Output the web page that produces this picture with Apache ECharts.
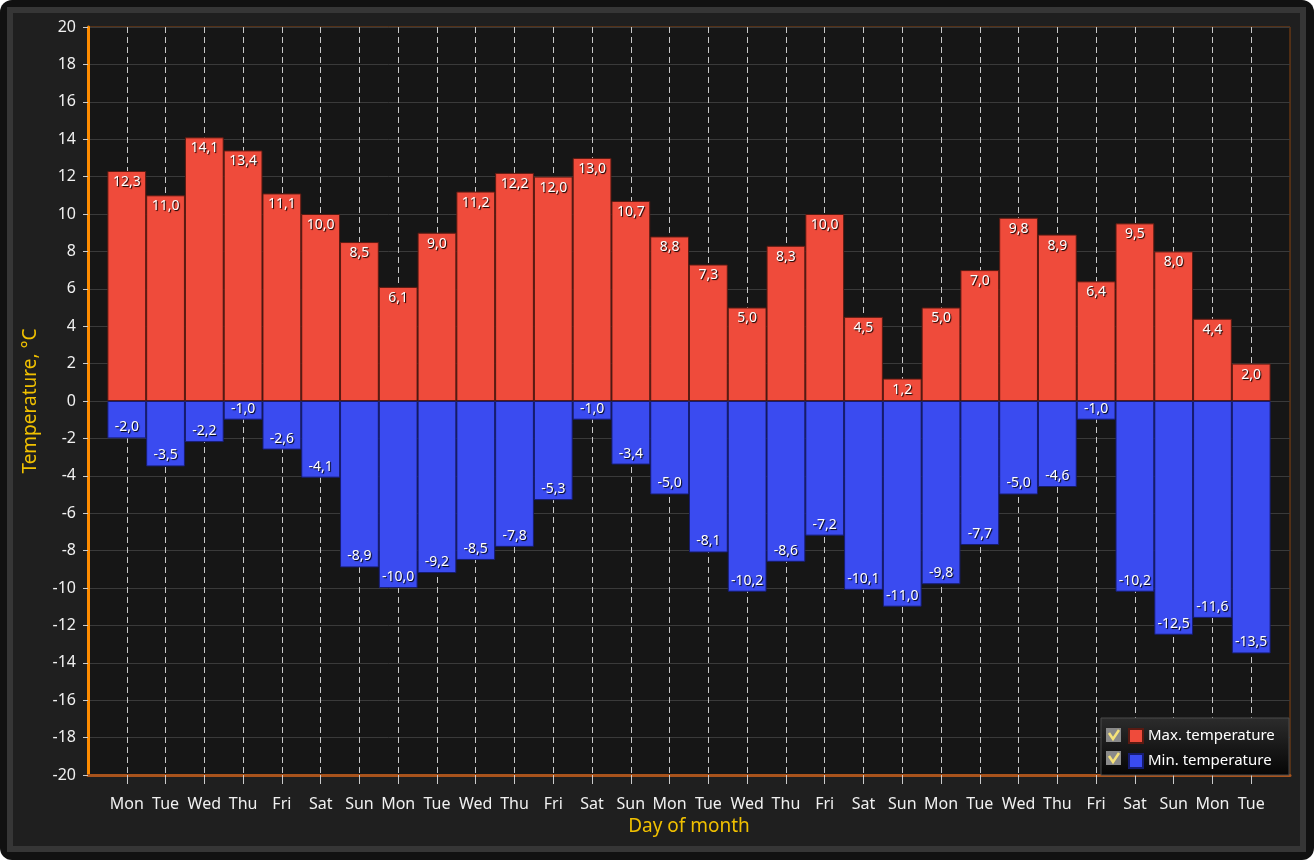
<!DOCTYPE html>
<html>
<head>
<meta charset="utf-8">
<script src="https://cdn.jsdelivr.net/npm/echarts@6/dist/echarts.min.js"></script>
<style>
html,body{margin:0;padding:0;background:#ffffff;}
#outer{position:absolute;left:0;top:0;width:1314px;height:860px;background:#111111;border-radius:12px;}
#ring{position:absolute;left:7px;top:7px;width:1299px;height:845px;background:#363636;}
#inner{position:absolute;left:13px;top:13px;width:1287px;height:833px;background:#1f1f1f;}
#chart{position:absolute;left:0;top:0;width:1314px;height:860px;}
</style>
</head>
<body>
<div id="outer"></div><div id="ring"></div><div id="inner"></div>
<div id="chart"></div>
<script>
const days = ['Mon','Tue','Wed','Thu','Fri','Sat','Sun','Mon','Tue','Wed','Thu','Fri','Sat','Sun','Mon','Tue','Wed','Thu','Fri','Sat','Sun','Mon','Tue','Wed','Thu','Fri','Sat','Sun','Mon','Tue'];
const maxTemp = [12.3,11.0,14.1,13.4,11.1,10.0,8.5,6.1,9.0,11.2,12.2,12.0,13.0,10.7,8.8,7.3,5.0,8.3,10.0,4.5,1.2,5.0,7.0,9.8,8.9,6.4,9.5,8.0,4.4,2.0];
const minTemp = [-2.0,-3.5,-2.2,-1.0,-2.6,-4.1,-8.9,-10.0,-9.2,-8.5,-7.8,-5.3,-1.0,-3.4,-5.0,-8.1,-10.2,-8.6,-7.2,-10.1,-11.0,-9.8,-7.7,-5.0,-4.6,-1.0,-10.2,-12.5,-11.6,-13.5];
const yTicks = {min:-20, max:20, interval:2};

const FONT = 'Noto Sans';
const cats = [''].concat(days, ['']);
const pad = a => ['-'].concat(a, ['-']);
const inner = (i) => i > 0 && i < cats.length - 1;
const fmt = p => p.value.toFixed(1).replace('.', ',');
const labelBase = {
  show:true, color:'#ffffff', fontFamily:FONT, fontSize:14,
  textShadowColor:'#000', textShadowOffsetX:1, textShadowOffsetY:1, textShadowBlur:1,
  distance:4, formatter: fmt
};

const chart = echarts.init(document.getElementById('chart'), null, {renderer:'canvas'});
chart.setOption({
  backgroundColor:'transparent',
  animation:false,
  textStyle:{fontFamily:FONT},
  grid:{left:88, right:24, top:27, bottom:85, show:true, backgroundColor:'#161616', borderColor:'#8a4510', borderWidth:1},
  legend:{
    orient:'vertical', left:1128, top:728, padding:0, itemWidth:14, itemHeight:14, itemGap:9,
    icon:'rect', selectedMode:false,
    textStyle:{color:'#ffffff', fontSize:15, fontFamily:FONT, lineHeight:14},
    data:['Max. temperature','Min. temperature']
  },
  xAxis:{
    type:'category', data:cats, boundaryGap:false,
    name:'Day of month', nameLocation:'middle', nameGap:38,
    nameTextStyle:{color:'#f0c000', fontSize:19, fontFamily:FONT},
    axisLine:{show:true, onZero:false, lineStyle:{color:'#a8531c', width:3}},
    axisTick:{show:true, length:9, interval:inner, lineStyle:{color:'#cccccc'}},
    axisLabel:{color:'#f0f0f0', fontSize:16, margin:21, interval:inner, fontFamily:FONT},
    splitLine:{show:true, interval:inner, lineStyle:{color:'#c8c8c8', type:[6,4], width:1}}
  },
  yAxis:{
    type:'value', min:yTicks.min, max:yTicks.max, interval:yTicks.interval,
    name:'Temperature, °C', nameLocation:'middle', nameGap:48, nameRotate:90,
    nameTextStyle:{color:'#f0c000', fontSize:19, fontFamily:FONT},
    axisLine:{show:true, lineStyle:{color:'#ff8c00', width:3}},
    axisTick:{show:true, length:5, lineStyle:{color:'#cccccc'}},
    axisLabel:{color:'#f0f0f0', fontSize:16, margin:12, fontFamily:FONT},
    splitLine:{show:true, lineStyle:{color:'#3a3a3a', width:1}}
  },
  series:[
    {name:'Max. temperature', type:'bar', data:pad(maxTemp), barWidth:'100%', barGap:'-100%',
     itemStyle:{color:'#ef4b3b', borderColor:'#5a1a12', borderWidth:1},
     label:Object.assign({position:'insideTop'}, labelBase)},
    {name:'Min. temperature', type:'bar', data:pad(minTemp), barWidth:'100%', barGap:'-100%',
     itemStyle:{color:'#3a4bf0', borderColor:'#161c70', borderWidth:1},
     label:Object.assign({position:'insideBottom'}, labelBase)}
  ],
  graphic:[
    {type:'rect', z:3, shape:{x:1101, y:718, width:188, height:57},
     style:{fill:new echarts.graphic.LinearGradient(0,0,0,1,[{offset:0,color:'#2c2c2c'},{offset:1,color:'#050505'}]), stroke:'#4a4a4a', lineWidth:1}},
    {type:'rect', z:5, shape:{x:1106, y:728, width:15, height:14}, style:{fill:'#8a8a8a'}},
    {type:'polyline', z:6, shape:{points:[[1109,733],[1113,739],[1119,730]]}, style:{stroke:'#f5e27a', lineWidth:2.5, fill:null}},
    {type:'rect', z:5, shape:{x:1106, y:751, width:15, height:14}, style:{fill:'#8a8a8a'}},
    {type:'polyline', z:6, shape:{points:[[1109,756],[1113,762],[1119,753]]}, style:{stroke:'#f5e27a', lineWidth:2.5, fill:null}}
  ]
});
</script>
</body>
</html>
